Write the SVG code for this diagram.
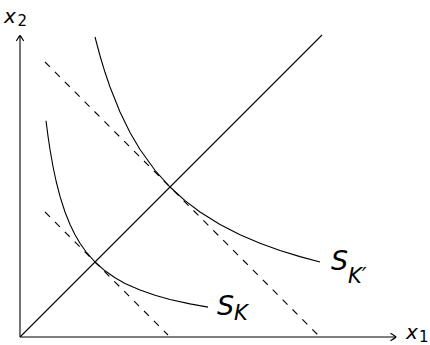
<svg xmlns="http://www.w3.org/2000/svg" width="430" height="345" viewBox="0 0 430 345">
<style>
.ln{fill:none;stroke:#000;stroke-width:1.1;stroke-linejoin:round;stroke-linecap:butt}
.dash{stroke-dasharray:7 7}
.lbl{font-family:"DejaVu Sans","Noto Sans",sans-serif;font-style:italic;fill:#000}
.sub{font-family:"DejaVu Sans","Noto Sans",sans-serif;fill:#000}
</style>
<rect width="430" height="345" fill="#fff"/>
<g id="connectors">
<g transform="translate(20,337) scale(1,-1)">
<path id="axis-y" class="ln" d="M0,0 L0,301"/>
<path id="axis-x" class="ln" d="M0,0 L376,0"/>
<path id="diagonal" class="ln" d="M0,0 L302,302"/>
<path id="tangent-inner" class="ln dash" d="M25,125 L148,2"/>
<path id="tangent-outer" class="ln dash" d="M25,275 L298,2"/>
</g>
<path class="ln" d="M16.3,41 Q18.6,37 20,35.5 Q21.4,37 23.7,41"/>
<path class="ln" d="M390.5,333.3 Q394.5,335.6 396,337 Q394.5,338.4 390.5,340.7"/>
</g>
<g id="curve-SK" transform="translate(20,337) scale(1,-1)">
<polyline class="ln" points="26,216.3 28,200.9 30,187.5 33,170.5 36,156.25 40,140.6 45,125 50,112.5 55,102.3 60,93.75 66,85.2 75,75 85,66.2 95,59.2 105,53.6 120,46.9 135,41.7 150,37.5 170,33.1 188,29.9"/>
</g>
<g id="curve-SKprime" transform="translate(20,337) scale(1,-1)">
<polyline class="ln" points="75,300 80,281.25 85,264.7 90,250 100,225 110,204.5 120,187.5 135,166.7 150,150 165,136.4 180,125 200,112.5 220,102.3 240,93.75 260,86.5 280,80.4 300,75"/>
</g>
<g id="label-x2">
<text class="lbl" x="4" y="23" font-size="20">x</text>
<text class="sub" x="17.5" y="25.5" font-size="15">2</text>
</g>
<g id="label-x1">
<text class="lbl" x="406" y="339" font-size="20">x</text>
<text class="sub" x="419" y="342" font-size="15">1</text>
</g>
<g id="label-SK">
<text class="lbl" x="217" y="315" font-size="27">S</text>
<text class="lbl" x="234" y="320" font-size="21">K</text>
</g>
<g id="label-SKprime">
<text class="lbl" x="331" y="270" font-size="27">S</text>
<text class="lbl" x="348" y="283" font-size="21">K′</text>
</g>
</svg>
